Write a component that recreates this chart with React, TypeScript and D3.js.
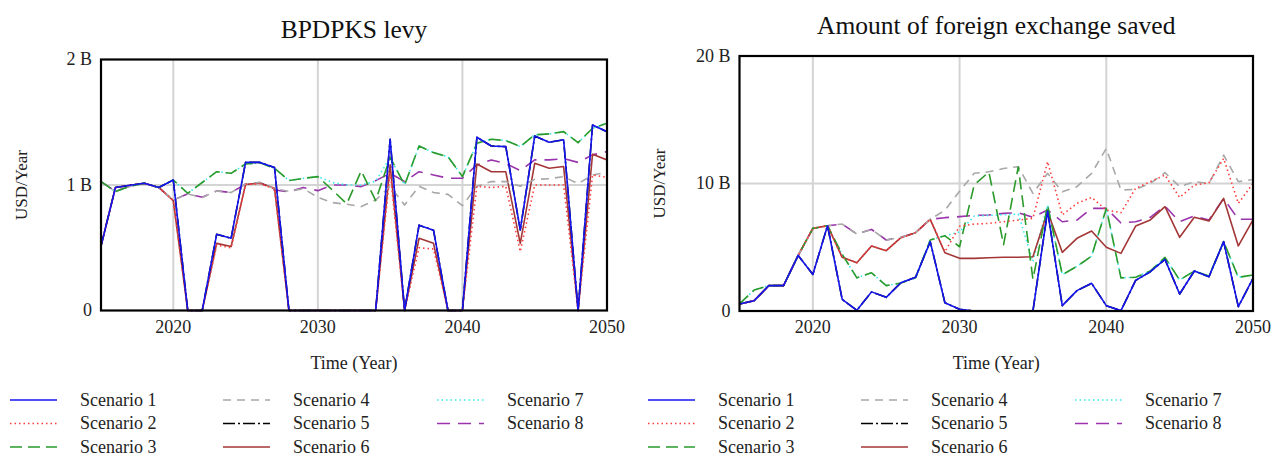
import React from 'react';
import * as d3 from 'd3';

const years = [2015, 2016, 2017, 2018, 2019, 2020, 2021, 2022, 2023, 2024, 2025, 2026, 2027, 2028, 2029, 2030, 2031, 2032, 2033, 2034, 2035, 2036, 2037, 2038, 2039, 2040, 2041, 2042, 2043, 2044, 2045, 2046, 2047, 2048, 2049, 2050];
const xTicks = [2020, 2030, 2040, 2050];

// BPDPKS levy (billion USD / year)
const levyS1 = [0.514, 0.98, 0.998, 1.014, 0.98, 1.04, 0, 0, 0.607, 0.576, 1.18, 1.18, 1.14, 0, 0, 0, 0, 0, 0, 0, 1.364, 0, 0.68, 0.64, 0, 0, 1.38, 1.311, 1.306, 0.642, 1.39, 1.34, 1.36, 0, 1.478, 1.425];
const levyS2 = [0.514, 0.98, 0.998, 1.014, 0.98, 0.876, 0, 0, 0.52, 0.5, 1.005, 1.01, 0.97, 0, 0, 0, 0, 0, 0, 0, 1.1, 0, 0.5, 0.49, 0, 0, 0.99, 0.98, 0.99, 0.47, 1.0, 1.0, 1.0, 0, 1.08, 1.06];
const levyS3 = [1.027, 0.947, 0.99, 1.014, 0.98, 1.04, 0.934, 1.02, 1.106, 1.093, 1.167, 1.177, 1.133, 1.035, 1.053, 1.067, 0.96, 0.85, 1.112, 0.876, 1.22, 1.0, 1.311, 1.258, 1.225, 1.067, 1.333, 1.365, 1.354, 1.306, 1.4, 1.407, 1.425, 1.338, 1.452, 1.492];
const levyS4 = [1.027, 0.95, 0.99, 1.014, 0.98, 0.88, 0.93, 0.9, 0.953, 0.94, 1.008, 1.02, 0.97, 0.95, 0.97, 0.902, 0.86, 0.846, 0.828, 0.88, 0.99, 0.84, 0.99, 0.94, 0.925, 0.835, 0.99, 1.027, 1.027, 0.99, 1.045, 1.05, 1.067, 1.01, 1.08, 1.1];
const levyS5 = [0.514, 0.98, 0.998, 1.014, 0.98, 1.04, 0, 0, 0.607, 0.576, 1.18, 1.18, 1.14, 0, 0, 0, 0, 0, 0, 0, 1.364, 0, 0.68, 0.64, 0, 0, 1.38, 1.311, 1.306, 0.642, 1.39, 1.34, 1.36, 0, 1.478, 1.425];
const levyS6 = [0.514, 0.98, 0.998, 1.014, 0.98, 0.876, 0, 0, 0.535, 0.51, 1.005, 1.015, 0.975, 0, 0, 0, 0, 0, 0, 0, 1.16, 0, 0.575, 0.535, 0, 0, 1.167, 1.105, 1.105, 0.535, 1.173, 1.133, 1.147, 0, 1.245, 1.2];
const levyS7 = [1.027, 0.947, 0.99, 1.014, 0.98, 1.04, 0.934, 1.02, 1.106, 1.093, 1.167, 1.177, 1.133, 1.035, 1.053, 1.067, 1.02, 1.0, 1.0, 1.03, 1.22, 1.0, 1.311, 1.258, 1.225, 1.067, 1.333, 1.365, 1.354, 1.306, 1.4, 1.407, 1.425, 1.338, 1.452, 1.492];
const levyS8 = [1.027, 0.95, 0.99, 1.014, 0.98, 0.88, 0.93, 0.902, 0.953, 0.94, 1.008, 1.02, 0.96, 0.947, 0.98, 0.955, 1.0, 1.0, 0.987, 1.035, 1.093, 1.027, 1.106, 1.08, 1.054, 1.054, 1.16, 1.2, 1.17, 1.115, 1.2, 1.2, 1.21, 1.18, 1.24, 1.266];

// Amount of foreign exchange saved (billion USD / year)
const fxS1 = [0.55, 0.81, 1.99, 1.99, 4.36, 2.87, 6.69, 0.91, 0.05, 1.5, 1.07, 2.22, 2.64, 5.44, 0.65, 0.13, 0, 0, 0, 0, 0, 7.84, 0.42, 1.6, 2.17, 0.42, 0.03, 2.4, 3.08, 4.05, 1.33, 3.14, 2.69, 5.44, 0.34, 2.56];
const fxS2 = [0.55, 0.81, 1.99, 1.99, 4.36, 6.48, 6.69, 4.21, 3.79, 5.1, 4.73, 5.75, 6.14, 7.19, 4.65, 6.65, 6.82, 6.87, 7.0, 7.13, 7.27, 11.71, 7.53, 8.44, 8.91, 7.92, 7.71, 9.62, 10.14, 10.66, 8.91, 9.88, 10.06, 11.97, 8.44, 10.01];
const fxS3 = [0.55, 1.65, 1.99, 1.99, 4.36, 6.48, 6.69, 4.45, 2.6, 3.0, 1.99, 2.2, 2.61, 5.57, 5.9, 5.04, 9.9, 10.9, 5.2, 11.3, 2.5, 8.3, 2.85, 3.5, 4.3, 8.05, 2.6, 2.65, 3.14, 4.21, 2.43, 3.14, 2.74, 5.44, 2.64, 2.82];
const fxS4 = [0.55, 0.81, 1.99, 1.99, 4.36, 6.48, 6.69, 6.82, 6.04, 6.4, 5.57, 5.78, 6.14, 7.19, 7.9, 9.4, 10.8, 10.92, 11.18, 11.32, 9.22, 10.8, 9.35, 9.75, 10.8, 12.75, 9.49, 9.54, 10.01, 10.85, 9.75, 10.14, 10.01, 12.23, 10.14, 10.32];
const fxS5 = [0.55, 0.81, 1.99, 1.99, 4.36, 2.87, 6.69, 0.91, 0.05, 1.5, 1.07, 2.22, 2.64, 5.44, 0.65, 0.13, 0, 0, 0, 0, 0, 7.84, 0.42, 1.6, 2.17, 0.42, 0.03, 2.4, 3.08, 4.05, 1.33, 3.14, 2.69, 5.44, 0.34, 2.56];
const fxS6 = [0.55, 0.81, 1.99, 1.99, 4.36, 6.48, 6.69, 4.21, 3.79, 5.1, 4.73, 5.75, 6.14, 7.19, 4.57, 4.13, 4.13, 4.18, 4.21, 4.21, 4.26, 7.8, 4.6, 5.7, 6.27, 5.0, 4.52, 6.66, 7.14, 8.18, 5.78, 7.35, 7.06, 8.83, 5.1, 7.14];
const fxS7 = [0.55, 1.65, 1.99, 1.99, 4.36, 6.48, 6.69, 4.45, 2.6, 3.0, 1.99, 2.2, 2.61, 5.57, 5.9, 6.2, 7.45, 7.5, 7.55, 7.6, 3.9, 8.3, 2.85, 3.5, 4.3, 8.05, 2.6, 2.65, 3.14, 4.21, 2.43, 3.14, 2.74, 5.44, 2.64, 2.82];
const fxS8 = [0.55, 0.81, 1.99, 1.99, 4.36, 6.48, 6.69, 6.82, 6.04, 6.4, 5.57, 5.78, 6.14, 7.19, 7.32, 7.4, 7.5, 7.53, 7.66, 7.71, 7.35, 7.92, 7.0, 7.13, 8.05, 8.05, 6.9, 7.0, 7.35, 8.23, 7.0, 7.45, 7.14, 8.83, 7.19, 7.2];

const scenarioNames = ['Scenario 1', 'Scenario 2', 'Scenario 3', 'Scenario 4', 'Scenario 5', 'Scenario 6', 'Scenario 7', 'Scenario 8'];
const levySeries = [levyS1, levyS2, levyS3, levyS4, levyS5, levyS6, levyS7, levyS8];
const fxSeries = [fxS1, fxS2, fxS3, fxS4, fxS5, fxS6, fxS7, fxS8];
const levyTicks = [0, 1, 2];
const levyTickLabels = ['0', '1 B', '2 B'];
const fxTicks = [0, 10, 20];
const fxTickLabels = ['0', '10 B', '20 B'];

const styles = [
  { color: '#1414f0', dash: '' },
  { color: '#ff3b3b', dash: '1.5,3' },
  { color: '#2a9a2a', dash: '12,6' },
  { color: '#a8a8a8', dash: '8,6' },
  { color: '#000000', dash: '12,3,2,3' },
  { color: '#a33636', dash: '' },
  { color: '#38eaea', dash: '1.5,3' },
  { color: '#9a34ac', dash: '13,8' },
];

const FONT = "'Liberation Serif', 'Times New Roman', Times, serif";
const txt = { fontFamily: FONT } as React.CSSProperties;

type Box = { l: number; r: number; t: number; b: number };

function Chart({ id, title, series, yMax, ticks, tickLabels, box, titleY }: { id: string; title: string; series: number[][]; yMax: number; ticks: number[]; tickLabels: string[]; box: Box; titleY: number }) {
  const x = d3.scaleLinear().domain([2015, 2050]).range([box.l, box.r]);
  const y = d3.scaleLinear().domain([0, yMax]).range([box.b, box.t]);
  const line = d3
    .line<number>()
    .x((_, i) => x(years[i]))
    .y((d) => y(d));
  const cx = (box.l + box.r) / 2;
  const order = [7, 6, 5, 4, 3, 2, 1, 0];
  return (
    <g>
      <defs>
        <clipPath id={id}>
          <rect x={box.l} y={box.t - 2} width={box.r - box.l} height={box.b - box.t + 4} />
        </clipPath>
      </defs>
      <text x={cx} y={titleY} textAnchor="middle" style={txt} fontSize={25.5} fill="#111">
        {title}
      </text>
      {xTicks.slice(0, 3).map((t) => (
        <line key={'gx' + t} x1={x(t)} x2={x(t)} y1={box.t} y2={box.b} stroke="#d4d4d4" strokeWidth={2} />
      ))}
      {ticks.slice(1, ticks.length - 1).map((t) => (
        <line key={'gy' + t} x1={box.l} x2={box.r} y1={y(t)} y2={y(t)} stroke="#d4d4d4" strokeWidth={2} />
      ))}
      <g clipPath={`url(#${id})`}>
        {order.map((k) => (
          <path
            key={k}
            d={line(series[k]) || ''}
            fill="none"
            stroke={styles[k].color}
            strokeWidth={1.6}
            strokeDasharray={styles[k].dash || undefined}
            strokeLinejoin="round"
          />
        ))}
      </g>
      <rect x={box.l} y={box.t} width={box.r - box.l} height={box.b - box.t} fill="none" stroke="#000" strokeWidth={2.2} />
      {ticks.map((t, i) => (
        <text key={'yt' + t} x={box.l - 9} y={y(t)} dy="0.33em" textAnchor="end" style={txt} fontSize={18} fill="#222">
          {tickLabels[i]}
        </text>
      ))}
      {xTicks.map((t) => (
        <text key={'xt' + t} x={x(t)} y={box.b + 22} textAnchor="middle" style={txt} fontSize={18} fill="#222">
          {t}
        </text>
      ))}
      <text x={cx} y={box.b + 58} textAnchor="middle" style={txt} fontSize={18} fill="#222">
        Time (Year)
      </text>
      <text
        transform={`translate(${box.l - 80},${(box.t + box.b) / 2}) rotate(-90)`}
        textAnchor="middle"
        dy="0.33em"
        style={txt}
        fontSize={17}
        fill="#222"
      >
        USD/Year
      </text>
    </g>
  );
}

function Legend({ x0 }: { x0: number }) {
  const cols = [0, 213, 427];
  const rows = [400, 423.5, 447];
  return (
    <g>
      {scenarioNames.map((name, i) => {
        const c = Math.floor(i / 3);
        const r = i % 3;
        const lx = x0 + cols[c];
        const ly = rows[r];
        return (
          <g key={name}>
            <line x1={lx} x2={lx + 47} y1={ly} y2={ly} stroke={styles[i].color} strokeWidth={1.6} strokeDasharray={styles[i].dash || undefined} />
            <text x={lx + 70} y={ly} dy="0.33em" style={txt} fontSize={18} fill="#222">
              {name}
            </text>
          </g>
        );
      })}
    </g>
  );
}

export default function App() {
  return (
    <svg width={1280} height={460} style={{ position: 'absolute', left: 0, top: 0, background: '#fff' }}>
      <rect x={0} y={0} width={1280} height={460} fill="#fff" />
      <Chart id="c1" title="BPDPKS levy" series={levySeries} yMax={2} ticks={levyTicks} tickLabels={levyTickLabels} box={{ l: 101, r: 607, t: 59.5, b: 310.5 }} titleY={38} />
      <Chart id="c2" title="Amount of foreign exchange saved" series={fxSeries} yMax={20} ticks={fxTicks} tickLabels={fxTickLabels} box={{ l: 739.5, r: 1253, t: 56, b: 311 }} titleY={34} />
      <Legend x0={10} />
      <Legend x0={648} />
    </svg>
  );
}
